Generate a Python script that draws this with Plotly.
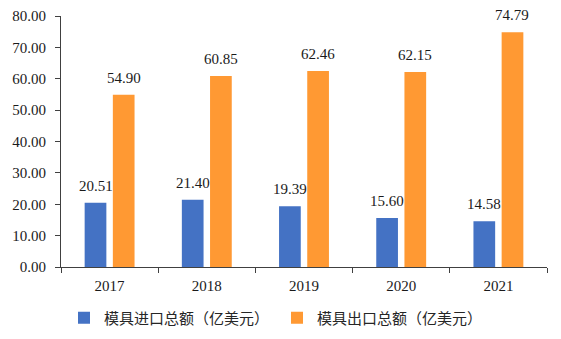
import plotly.graph_objects as go

years = ["2017", "2018", "2019", "2020", "2021"]
imports = [20.51, 21.40, 19.39, 15.60, 14.58]
exports = [54.90, 60.85, 62.46, 62.15, 74.79]
name_imp = "模具进口总额（亿美元）"
name_exp = "模具出口总额（亿美元）"
y_ticks = [0, 10, 20, 30, 40, 50, 60, 70, 80]

BLUE = "#4472C4"
ORANGE = "#FF9933"
SERIF = "Liberation Serif, Times New Roman, serif"
CJK = "Noto Sans CJK SC, sans-serif"

fig = go.Figure()
fig.add_trace(go.Bar(x=years, y=imports, name=name_imp, marker_color=BLUE,
                     marker_line_width=0))
fig.add_trace(go.Bar(x=years, y=exports, name=name_exp, marker_color=ORANGE,
                     marker_line_width=0))

annotations = []
for i, v in enumerate(imports):
    annotations.append(dict(x=i, y=v, xref="x", yref="y", text=f"{v:.2f}",
                            showarrow=False, xshift=-14, yshift=7, yanchor="bottom",
                            font=dict(family=SERIF, size=15, color="#1a1a1a")))
for i, v in enumerate(exports):
    annotations.append(dict(x=i, y=v, xref="x", yref="y", text=f"{v:.2f}",
                            showarrow=False, xshift=14, yshift=7, yanchor="bottom",
                            font=dict(family=SERIF, size=15, color="#1a1a1a")))

fig.update_layout(
    width=561, height=339,
    margin=dict(l=61, r=14, t=16, b=72, autoexpand=False),
    paper_bgcolor="white", plot_bgcolor="white",
    barmode="group", bargap=0.42, bargroupgap=0.23,
    annotations=annotations,
    showlegend=True,
    legend=dict(orientation="h", xref="container", yref="container",
                x=64 / 561, xanchor="left", y=21 / 339, yanchor="middle",
                font=dict(family=CJK, size=15, color="#262626"),
                entrywidth=168, entrywidthmode="pixels",
                itemwidth=30, traceorder="normal"),
    font=dict(family=SERIF, color="#1a1a1a"),
)
fig.update_xaxes(type="category", categoryorder="array", categoryarray=years,
                 range=[-0.5, len(years) - 0.5],
                 showline=True, linecolor="#404040", linewidth=1,
                 ticks="outside", ticklen=5, tickcolor="#404040",
                 tickson="boundaries", showgrid=False, tickangle=0,
                 ticklabelstandoff=5,
                 tickfont=dict(family=SERIF, size=15, color="#1a1a1a"))
fig.update_yaxes(range=[0, 80], tickvals=y_ticks,
                 ticktext=[f"{t:.2f}" for t in y_ticks],
                 showline=True, linecolor="#404040", linewidth=1,
                 ticks="outside", ticklen=5, tickcolor="#404040",
                 showgrid=False, zeroline=False, ticklabelstandoff=6,
                 tickfont=dict(family=SERIF, size=15, color="#1a1a1a"))

fig.write_html("out.html")
